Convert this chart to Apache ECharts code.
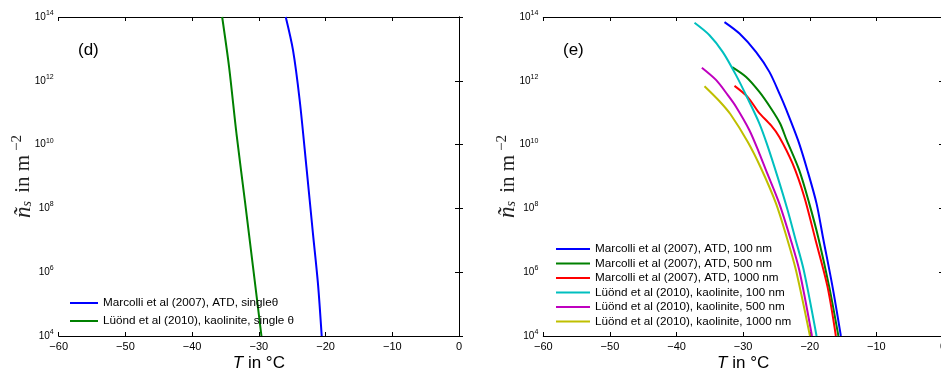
<!DOCTYPE html>
<html>
<head>
<meta charset="utf-8">
<script src="https://cdn.jsdelivr.net/npm/echarts@6/dist/echarts.min.js"></script>
<style>
html,body{margin:0;padding:0;background:#fff;}
#chart{width:941px;height:370px;}
</style>
</head>
<body>
<div id="chart"></div>
<script>
// ---- data (temperature in °C, n_s given as log10 of value in m^-2) ----
var xTicks = [-60, -50, -40, -30, -20, -10, 0];
var yTickExponents = [4, 6, 8, 10, 12, 14];

// panel (d)
var marcolliSingleT   = [-25.97, -24.88, -23.88, -22.87, -21.89, -21.14, -20.58];
var marcolliSingleLog = [14, 12.96, 11.39, 9.30, 7.21, 5.64, 4];
var luondSingleT      = [-35.5, -34.46, -33.35, -32.1, -30.87, -29.61];
var luondSingleLog    = [14, 12.43, 10.34, 8.25, 6.16, 4];

// panel (e)
var marcolli100T   = [-32.8, -30.55, -28.05, -26.06, -24.45, -23.5, -21.75, -20.35, -18.98, -17.98, -16.58, -15.33];
var marcolli100Log = [13.84, 13.48, 12.9, 12.28, 11.55, 11.08, 10.13, 9.19, 8.15, 7.05, 5.54, 4];
var marcolli500T   = [-31.65, -29.55, -27.56, -25.81, -24.45, -23.45, -21.57, -20.07, -18.68, -17.08, -15.7];
var marcolli500Log = [12.43, 12.12, 11.65, 11.13, 10.66, 10.13, 9.19, 8.15, 7.05, 5.54, 4];
var marcolli1000T   = [-31.3, -29.31, -27.7, -25.81, -24.57, -22.57, -20.82, -19.18, -17.33, -16.08];
var marcolli1000Log = [11.84, 11.49, 11.02, 10.6, 10.24, 9.40, 8.36, 7.05, 5.54, 4];
var luond100T   = [-37.3, -35.05, -33.05, -31.05, -29.31, -27.56, -26.45, -24.82, -23.32, -22.17, -20.9, -18.98];
var luond100Log = [13.82, 13.43, 12.9, 12.17, 11.44, 10.66, 10.03, 8.98, 7.94, 7.05, 6.06, 4];
var luond500T   = [-36.2, -34.04, -32.3, -31.05, -29.06, -27.56, -26.56, -24.57, -22.9, -21.57, -19.67];
var luond500Log = [12.41, 12.02, 11.55, 11.18, 10.45, 9.72, 9.19, 8.15, 7.05, 6.06, 4];
var luond1000T   = [-35.8, -33.55, -31.9, -29.3, -27.3, -25.06, -23.4, -22.07, -19.97];
var luond1000Log = [11.83, 11.36, 10.95, 10.08, 9.25, 8.15, 7.05, 6.06, 4];

var namesD = ['Marcolli et al (2007), ATD, single\u03b8', 'L\u00fc\u00f6nd et al (2010), kaolinite, single \u03b8'];
var namesE = ['Marcolli et al (2007), ATD, 100 nm', 'Marcolli et al (2007), ATD, 500 nm', 'Marcolli et al (2007), ATD, 1000 nm',
              'L\u00fc\u00f6nd et al (2010), kaolinite, 100 nm', 'L\u00fc\u00f6nd et al (2010), kaolinite, 500 nm', 'L\u00fc\u00f6nd et al (2010), kaolinite, 1000 nm'];

// ---- build ----
function pts(ts, logs) {
  return ts.map(function (t, i) { return [t, Math.pow(10, logs[i])]; });
}
var FONT = 'Liberation Sans, Arial, sans-serif';
var SERIF = 'Liberation Serif, DejaVu Serif, serif';
var xMin = xTicks[0], xMax = xTicks[xTicks.length - 1];
var yMin = Math.pow(10, yTickExponents[0]), yMax = Math.pow(10, yTickExponents[yTickExponents.length - 1]);

function xAxisDef(gi, main) {
  return {
    type: 'value', gridIndex: gi, min: xMin, max: xMax, interval: 10,
    position: main ? 'bottom' : 'top',
    axisLine: { show: true, onZero: false, lineStyle: { color: '#000', width: 1 } },
    axisTick: { show: true, inside: true, length: 4, lineStyle: { color: '#000' } },
    splitLine: { show: false },
    axisLabel: main ? {
      show: true, color: '#000', fontFamily: FONT, fontSize: 11, margin: 5,
      formatter: function (v) { return v < 0 ? '\u2212' + Math.abs(v) : String(v); }
    } : { show: false },
    name: main ? '{i|T}{r| in \u00b0C}' : '',
    nameLocation: 'middle', nameGap: 19, nameMoveOverlap: false,
    nameTextStyle: {
      rich: {
        i: { fontFamily: FONT, fontStyle: 'italic', fontSize: 17, color: '#000' },
        r: { fontFamily: FONT, fontSize: 17, color: '#000' }
      }
    }
  };
}
function yAxisDef(gi, main) {
  return {
    type: 'log', logBase: 10, gridIndex: gi, min: yMin, max: yMax, interval: 2,
    position: main ? 'left' : 'right',
    axisLine: { show: true, lineStyle: { color: '#000', width: 1 } },
    axisTick: { show: true, inside: true, length: 4, lineStyle: { color: '#000' } },
    minorTick: { show: false },
    splitLine: { show: false },
    axisLabel: main ? {
      show: true, margin: 5,
      formatter: function (v) { return '{b|10}{e|' + Math.round(Math.log10(v)) + '}'; },
      rich: {
        b: { fontFamily: FONT, fontSize: 10, color: '#000' },
        e: { fontFamily: FONT, fontSize: 7, color: '#000', padding: [0, 0, 8, 0] }
      }
    } : { show: false },
    name: main ? '{n|\u00f1}{s|s}{r| in m}{p|\u22122}' : '',
    nameLocation: 'middle', nameRotate: 90, nameGap: 21, nameMoveOverlap: false,
    nameTextStyle: {
      rich: {
        n: { fontFamily: SERIF, fontStyle: 'italic', fontSize: 23, color: '#222' },
        s: { fontFamily: SERIF, fontStyle: 'italic', fontSize: 14, color: '#222', padding: [7, 3, 0, 0] },
        r: { fontFamily: SERIF, fontSize: 21, color: '#222' },
        p: { fontFamily: SERIF, fontSize: 15, color: '#222', padding: [0, 0, 13, 4] }
      }
    }
  };
}
function lineSeries(name, color, gi, data) {
  return {
    name: name, type: 'line', xAxisIndex: gi * 2, yAxisIndex: gi * 2,
    data: data, smooth: 0.3, symbol: 'none', showSymbol: false,
    lineStyle: { color: color, width: 2 }, itemStyle: { color: color },
    animation: false, z: 3
  };
}

var colorsE = ['#0000ff', '#008000', '#ff0000', '#00bfbf', '#bf00bf', '#bfbf00'];
var dataE = [pts(marcolli100T, marcolli100Log), pts(marcolli500T, marcolli500Log), pts(marcolli1000T, marcolli1000Log),
             pts(luond100T, luond100Log), pts(luond500T, luond500Log), pts(luond1000T, luond1000Log)];

var series = [
  lineSeries(namesD[0], '#0000ff', 0, pts(marcolliSingleT, marcolliSingleLog)),
  lineSeries(namesD[1], '#008000', 0, pts(luondSingleT, luondSingleLog))
];
dataE.forEach(function (d, i) { series.push(lineSeries(namesE[i], colorsE[i], 1, d)); });

var option = {
  animation: false,
  backgroundColor: '#fff',
  grid: [
    { left: 58.7, right: 482, top: 17, bottom: 34, outerBoundsMode: 'none', containLabel: false },
    { left: 543.3, right: -2, top: 17, bottom: 34, outerBoundsMode: 'none', containLabel: false }
  ],
  xAxis: [xAxisDef(0, true), xAxisDef(0, false), xAxisDef(1, true), xAxisDef(1, false)],
  yAxis: [yAxisDef(0, true), yAxisDef(0, false), yAxisDef(1, true), yAxisDef(1, false)],
  legend: [
    { data: namesD, orient: 'vertical', left: 70, top: 296, icon: 'rect', itemWidth: 28, itemHeight: 2, itemGap: 4,
      textStyle: { fontFamily: FONT, fontSize: 11.7, color: '#000', lineHeight: 14 }, padding: 0 },
    { data: namesE, orient: 'vertical', left: 556, top: 242, icon: 'rect', itemWidth: 34, itemHeight: 2, itemGap: 0.5,
      textStyle: { fontFamily: FONT, fontSize: 11.7, color: '#000', lineHeight: 14 }, padding: 0 }
  ],
  title: [
    { text: '(d)', left: 78, top: 42, padding: 0, textStyle: { fontFamily: FONT, fontSize: 17, fontWeight: 'normal', color: '#000' } },
    { text: '(e)', left: 563, top: 42, padding: 0, textStyle: { fontFamily: FONT, fontSize: 17, fontWeight: 'normal', color: '#000' } }
  ],
  series: series
};
var chart = echarts.init(document.getElementById('chart'), null, { renderer: 'canvas' });
chart.setOption(option);
</script>
</body>
</html>
